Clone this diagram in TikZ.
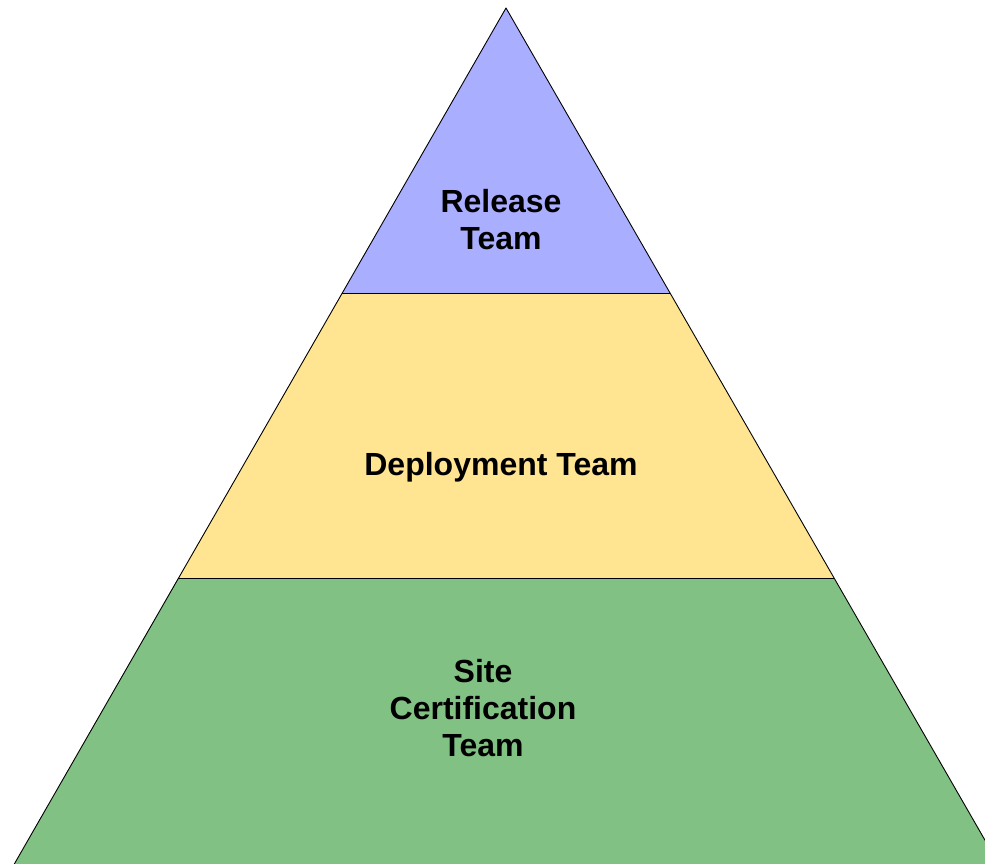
\documentclass[tikz,border=0pt]{standalone}
\usepackage{fontspec}
\setmainfont{Liberation Sans}
\definecolor{topblue}{RGB}{170,174,255}
\definecolor{midyellow}{RGB}{255,229,145}
\definecolor{botgreen}{RGB}{130,193,132}
\begin{document}
\begin{tikzpicture}[x=1pt,y=1pt,
  layer/.style={draw=black,line width=0.9pt,line join=round},
  label/.style={font=\fontsize{32}{37}\selectfont\bfseries,align=center,text=black,inner sep=0pt}]
\useasboundingbox (0,0) rectangle (985,-863);
\begin{scope}
\clip (0,0) rectangle (985,-863);
\coordinate (apex) at (506,-8);
\coordinate (l1) at (342,-293.5);
\coordinate (r1) at (670,-293.5);
\coordinate (l2) at (178,-578.5);
\coordinate (r2) at (834,-578.5);
\coordinate (l3) at (12,-868);
\coordinate (r3) at (1001,-868);
\fill[botgreen] (l2) -- (r2) -- (r3) -- (l3) -- cycle;
\fill[midyellow] (l1) -- (r1) -- (r2) -- (l2) -- cycle;
\fill[topblue] (apex) -- (r1) -- (l1) -- cycle;
\draw[layer] (l3) -- (apex) -- (r3);
\draw[layer] (l1) -- (r1);
\draw[layer] (l2) -- (r2);
\end{scope}
\node[label] (release) at (501,-220) {Release\\Team};
\node[label] (deploy) at (501,-467) {Deployment Team};
\node[label] (site) at (483,-708) {Site\\Certification\\Team};
\end{tikzpicture}
\end{document}
